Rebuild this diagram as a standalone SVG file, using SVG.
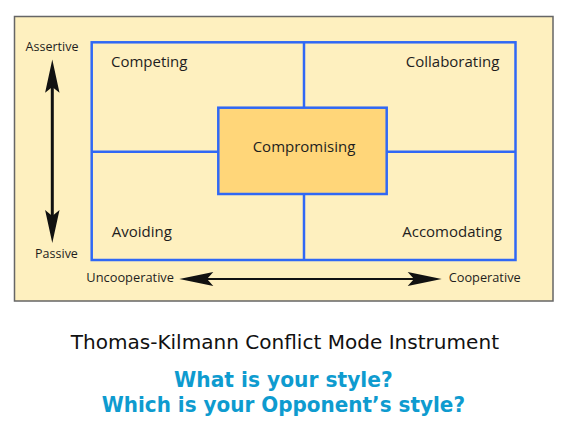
<svg xmlns="http://www.w3.org/2000/svg" width="567" height="421" viewBox="0 0 567 421">
<style>
.lbl{font-family:"Open Sans","Noto Sans",sans-serif;font-size:15px;fill:#1e1e1e}
.ax{font-family:"Open Sans","Noto Sans",sans-serif;font-size:12.5px;fill:#1e1e1e}
.blue{fill:none;stroke:#3068F5;stroke-width:2.5}
.title{font-family:"DejaVu Sans","Noto Sans",sans-serif;font-size:20px;fill:#111}
.q{font-family:"DejaVu Sans","Noto Sans",sans-serif;font-size:22px;font-weight:bold;fill:#0E9BCF}
</style>
<rect width="567" height="421" fill="#fff"/>
<g id="panel">
<rect x="14.5" y="16.5" width="538.5" height="284.5" fill="#FEF0BF" stroke="#666" stroke-width="1.5"/>
</g>
<g id="grid">
<rect class="blue" x="91.7" y="42.3" width="423.8" height="217.7"/>
</g>
<g id="connectors" stroke="#3068F5" stroke-width="2.5">
<line x1="91.7" y1="151.7" x2="218.3" y2="151.7"/>
<line x1="386.7" y1="151.7" x2="515.5" y2="151.7"/>
<line x1="304" y1="42.3" x2="304" y2="107.7"/>
<line x1="304" y1="194" x2="304" y2="260"/>
</g>
<g id="compromising">
<rect x="218.3" y="107.7" width="168.4" height="86.3" fill="#FFD679" stroke="#3068F5" stroke-width="2.5"/>
<text class="lbl" x="304" y="151.7" text-anchor="middle">Compromising</text>
</g>
<g id="competing"><text class="lbl" x="111" y="67.3">Competing</text></g>
<g id="collaborating"><text class="lbl" x="499.3" y="67.3" text-anchor="end">Collaborating</text></g>
<g id="avoiding"><text class="lbl" x="111.7" y="236.7">Avoiding</text></g>
<g id="accomodating"><text class="lbl" x="502" y="236.7" text-anchor="end">Accomodating</text></g>
<g id="axes">
<line x1="52.3" y1="80" x2="52.3" y2="223" stroke="#111" stroke-width="3"/>
<polygon points="52.3,59.5 59.5,92.7 52.3,87 45.1,92.7" fill="#111"/>
<polygon points="52.3,243 59.5,210 52.3,216 45.1,210" fill="#111"/>
<line x1="200" y1="279" x2="420" y2="279" stroke="#111" stroke-width="2"/>
<polygon points="179.3,279 213.3,272 207,279 213.3,286" fill="#111"/>
<polygon points="441.7,279 407.7,272 414,279 407.7,286" fill="#111"/>
<text class="ax" x="52" y="50.7" text-anchor="middle">Assertive</text>
<text class="ax" x="56.5" y="258" text-anchor="middle">Passive</text>
<text class="ax" x="86.3" y="282.3" textLength="87.7" lengthAdjust="spacingAndGlyphs">Uncooperative</text>
<text class="ax" x="448.7" y="282.3" textLength="72" lengthAdjust="spacingAndGlyphs">Cooperative</text>
</g>
<g id="captions">
<text class="title" x="70.7" y="349.3" textLength="428.3" lengthAdjust="spacingAndGlyphs">Thomas-Kilmann Conflict Mode Instrument</text>
<text class="q" x="174" y="386.7" textLength="218.7" lengthAdjust="spacingAndGlyphs">What is your style?</text>
<text class="q" x="101.7" y="411.7" textLength="363.3" lengthAdjust="spacingAndGlyphs">Which is your Opponent’s style?</text>
</g>
</svg>
